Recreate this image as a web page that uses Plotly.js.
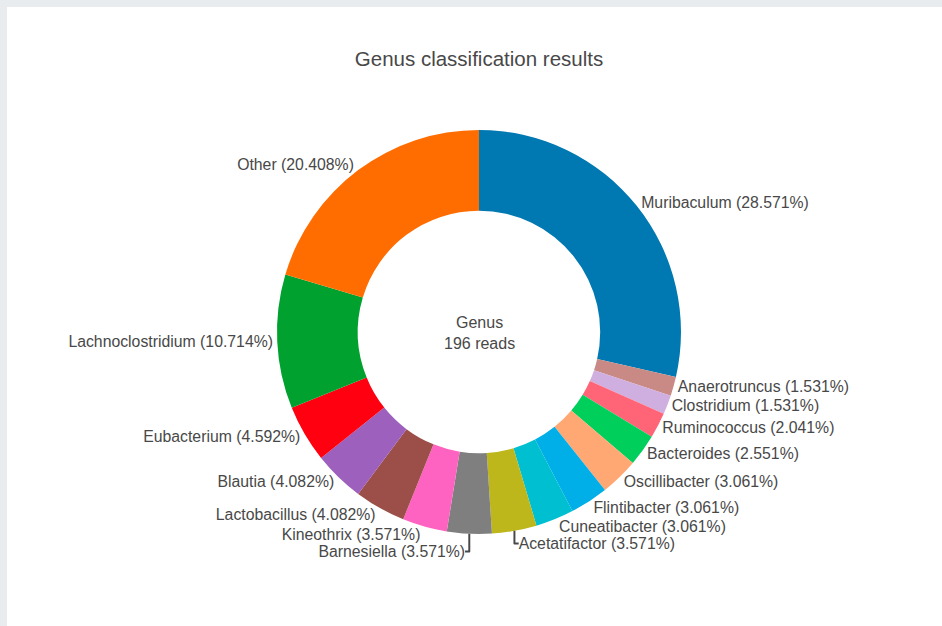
<!DOCTYPE html>
<html>
<head>
<meta charset="utf-8">
<script src="https://cdn.plot.ly/plotly-3.0.1.min.js"></script>
<style>
html,body{margin:0;padding:0;background:#e9ecef;width:942px;height:626px;overflow:hidden;}
#card{position:absolute;left:7px;top:7px;width:935px;height:619px;background:#fff;}
#chart{width:935px;height:619px;}
</style>
</head>
<body>
<div id="card"><div id="chart"></div></div>
<script>
const labels = ["Muribaculum","Anaerotruncus","Clostridium","Ruminococcus","Bacteroides","Oscillibacter","Flintibacter","Cuneatibacter","Acetatifactor","Barnesiella","Kineothrix","Lactobacillus","Blautia","Eubacterium","Lachnoclostridium","Other"];
const reads = [56,3,3,4,5,6,6,6,7,7,7,8,8,9,21,40];
const colors = ["#0078b2","#c98a85","#cfaee0","#ff6577","#00cf5c","#ffa874","#00aee8","#00bfd0","#bdb71c","#7f7f7f","#ff63c1","#9b4f48","#9d60bd","#ff0010","#00a12e","#ff6d00"];
const totalReads = 196;
const centerText = "Genus<br>" + totalReads + " reads";

Plotly.newPlot("chart", [{
  type: "pie",
  labels: labels,
  values: reads,
  hole: 0.6,
  sort: false,
  direction: "clockwise",
  rotation: 0,
  marker: {colors: colors, line: {width: 0}},
  textposition: "outside",
  texttemplate: "%{label} (%{percent:.3%})",
  textfont: {size: 15.8, color: "#484848"},
  showlegend: false
}], {
  width: 935, height: 619,
  margin: {t: 123, b: 92, l: 109, r: 100},
  paper_bgcolor: "#fff",
  font: {family: "Liberation Sans, Arial, sans-serif", color: "#484848"},
  title: {text: "Genus classification results", font: {size: 20.5, color: "#484848"}, x: 0.5, xref: "paper", y: 0.916, yanchor: "middle"},
  annotations: [{text: centerText, x: 0.5, y: 0.498, xref: "paper", yref: "paper", showarrow: false, font: {size: 16, color: "#484848"}}]
}, {displayModeBar: false});
</script>
</body>
</html>
